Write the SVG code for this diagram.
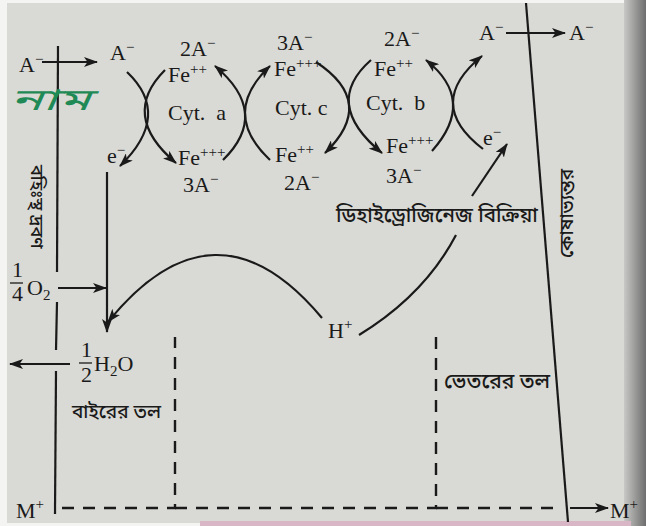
<svg xmlns="http://www.w3.org/2000/svg" width="646" height="526" viewBox="0 0 646 526">
<defs>
<marker id="ah" viewBox="0 0 14 10" refX="13" refY="5" markerWidth="14" markerHeight="10" markerUnits="userSpaceOnUse" orient="auto">
<path d="M0,0 L14,5 L0,10 L3.5,5 Z" fill="#1a1a1a"/>
</marker>
<linearGradient id="edge" x1="0" x2="1" y1="0" y2="0">
<stop offset="0" stop-color="#c8c8c6"/>
<stop offset="1" stop-color="#6e6e6e"/>
</linearGradient>
<style>
.t{font-family:"Liberation Serif","Times New Roman",serif;font-size:22px;fill:#1a1a1a;white-space:pre}
.s{font-size:15px}
.b{font-family:"Noto Sans Bengali","Noto Sans","Noto Sans CJK SC",sans-serif;fill:#1a1a1a;font-weight:500}
.ln{fill:none;stroke:#1a1a1a;stroke-width:2.2}
.ar{fill:none;stroke:#1a1a1a;stroke-width:2.2;marker-end:url(#ah)}
.da{fill:none;stroke:#1a1a1a;stroke-width:2.4;stroke-dasharray:12 9}
</style>
</defs>
<rect x="0" y="0" width="646" height="526" fill="#f4f4f2"/>
<rect x="7" y="3" width="624" height="520" fill="#d9d9d5"/>
<rect x="624" y="0" width="22" height="526" fill="url(#edge)"/>
<rect x="200" y="521" width="431" height="5" fill="#d8b6c6"/>

<g id="membranes">
<line class="ln" x1="58" y1="46" x2="57" y2="272"/>
<line class="ln" x1="57" y1="302" x2="56" y2="350"/>
<line class="ln" x1="56" y1="371" x2="55" y2="514"/>
<line class="ln" x1="526" y1="3" x2="568" y2="522"/>
<path class="da" d="M62,508 L175,508 L175,337"/>
<path class="da" d="M175,508 L436,508 L436,330"/>
<path class="da" d="M436,508 L560,508"/>
</g>

<g id="connectors">
<line class="ar" x1="42" y1="62" x2="97" y2="62"/>
<line class="ar" x1="506" y1="33" x2="565" y2="33"/>
<line class="ar" x1="570" y1="508" x2="608" y2="508"/>
<path class="ar" d="M127,72 Q172.5,115 120,166"/>
<path class="ar" d="M165,70 Q119.5,115.5 176,163"/>
<path class="ar" d="M223,160 Q271,113 215,66"/>
<path class="ar" d="M270,160 Q220,113 270,66"/>
<path class="ar" d="M316,62 Q377.5,102.5 325,153"/>
<path class="ar" d="M371,60 Q321.5,103.5 382,153"/>
<path class="ar" d="M432,151 Q477,100.5 426,60"/>
<path class="ar" d="M483,149 Q423.5,103.5 482,56"/>
<line class="ar" x1="472" y1="196" x2="507" y2="144"/>
<path class="ln" d="M359,335 Q424.5,295 456,235"/>
<path class="ar" d="M322,318 Q215,190 108,322"/>
<line class="ar" x1="107" y1="172" x2="107" y2="332"/>
<line class="ar" x1="58" y1="288" x2="106" y2="288"/>
<line class="ar" x1="70" y1="364" x2="10" y2="364"/>
</g>

<g id="cyt-a">
<text class="t" x="180" y="56">2A<tspan class="s" dy="-8">−</tspan></text>
<text class="t" x="168" y="82">Fe<tspan class="s" dy="-8">++</tspan></text>
<text class="t" x="168" y="120">Cyt.  a</text>
<text class="t" x="178" y="165">Fe<tspan class="s" dy="-8">+++</tspan></text>
<text class="t" x="183" y="192">3A<tspan class="s" dy="-8">−</tspan></text>
</g>
<g id="cyt-c">
<text class="t" x="277" y="50">3A<tspan class="s" dy="-8">−</tspan></text>
<text class="t" x="274" y="76">Fe<tspan class="s" dy="-8">+++</tspan></text>
<text class="t" x="275" y="115">Cyt. c</text>
<text class="t" x="275" y="162">Fe<tspan class="s" dy="-8">++</tspan></text>
<text class="t" x="284" y="190">2A<tspan class="s" dy="-8">−</tspan></text>
</g>
<g id="cyt-b">
<text class="t" x="384" y="46">2A<tspan class="s" dy="-8">−</tspan></text>
<text class="t" x="374" y="76">Fe<tspan class="s" dy="-8">++</tspan></text>
<text class="t" x="366" y="110">Cyt.  b</text>
<text class="t" x="386" y="153">Fe<tspan class="s" dy="-8">+++</tspan></text>
<text class="t" x="386" y="183">3A<tspan class="s" dy="-8">−</tspan></text>
</g>

<g id="labels">
<text class="t" x="19" y="72">A<tspan class="s" dy="-8">−</tspan></text>
<text class="t" x="110" y="60">A<tspan class="s" dy="-8">−</tspan></text>
<text class="t" x="107" y="163">e<tspan class="s" dy="-8">−</tspan></text>
<text class="t" x="479" y="40">A<tspan class="s" dy="-8">−</tspan></text>
<text class="t" x="569" y="40">A<tspan class="s" dy="-8">−</tspan></text>
<text class="t" x="483" y="145">e<tspan class="s" dy="-8">−</tspan></text>
<text class="b" x="336" y="222" font-size="20.5">ডিহাইড্রোজিনেজ বিক্রিয়া</text>
<text class="t" x="328" y="338">H<tspan class="s" dy="-9" font-size="16">+</tspan></text>
<text class="t" x="12" y="277" font-size="16">1</text>
<line x1="10" y1="283" x2="23" y2="283" stroke="#1a1a1a" stroke-width="1.3"/>
<text class="t" x="12" y="301" font-size="16">4</text>
<text class="t" x="27" y="295">O<tspan font-size="15" dy="5">2</tspan></text>
<text class="t" x="81" y="357" font-size="16">1</text>
<line x1="79" y1="363" x2="92" y2="363" stroke="#1a1a1a" stroke-width="1.3"/>
<text class="t" x="81" y="382" font-size="16">2</text>
<text class="t" x="94" y="371">H<tspan font-size="15" dy="5">2</tspan><tspan dy="-5">O</tspan></text>
<text class="b" x="72" y="418" font-size="19">বাইরের তল</text>
<text class="b" x="444" y="388" font-size="21">ভেতরের তল</text>
<text class="t" x="16" y="518">M<tspan class="s" dy="-9" font-size="16">+</tspan></text>
<text class="t" x="610" y="518">M<tspan class="s" dy="-9" font-size="16">+</tspan></text>
<text class="b" font-size="18" transform="translate(31,165) rotate(90)">বহিঃস্থ দ্রবণ</text>
<text class="b" font-size="19" transform="translate(573,258) rotate(-90)">কোষাভ্যন্তর</text>
<text class="b" x="10" y="110" font-size="30" textLength="80" lengthAdjust="spacingAndGlyphs" style="fill:#1f8a55;font-style:italic;font-weight:400">নাম</text>
</g>
</svg>
